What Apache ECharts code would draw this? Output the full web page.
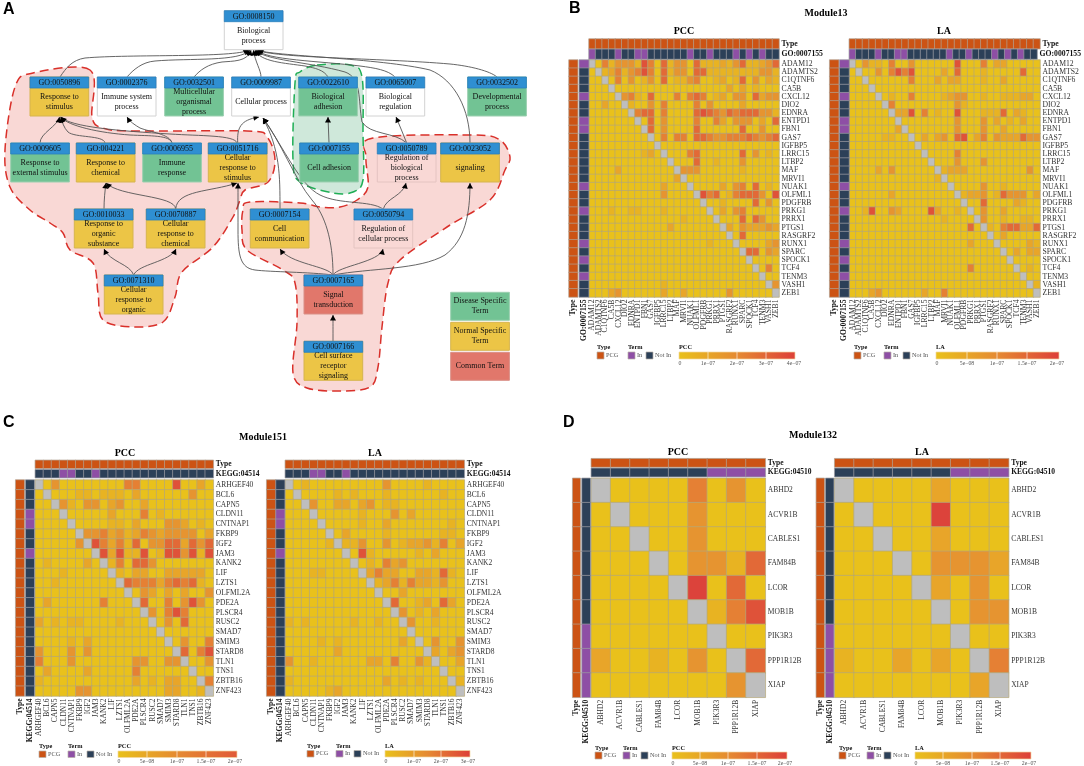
<!DOCTYPE html>
<html><head><meta charset="utf-8">
<style>html,body{margin:0;padding:0;background:#fff}#c{width:1084px;height:766px}</style>
<script src="https://cdn.jsdelivr.net/npm/echarts@6/dist/echarts.min.js"></script>
</head><body><div id="c"></div>
<script>
/* ---------- gene lists ---------- */
const genesB = ["ADAM12","ADAMTS2","C1QTNF6","CA5B","CXCL12","DIO2","EDNRA","ENTPD1","FBN1","GAS7","IGFBP5","LRRC15","LTBP2","MAF","MRVI1","NUAK1","OLFML1","PDGFRB","PRKG1","PRRX1","PTGS1","RASGRF2","RUNX1","SPARC","SPOCK1","TCF4","TENM3","VASH1","ZEB1"];
const genesC = ["ARHGEF40","BCL6","CAPN5","CLDN11","CNTNAP1","FKBP9","IGF2","JAM3","KANK2","LIF","LZTS1","OLFML2A","PDE2A","PLSCR4","RUSC2","SMAD7","SMIM3","STARD8","TLN1","TNS1","ZBTB16","ZNF423"];
const genesD = ["ABHD2","ACVR1B","CABLES1","FAM84B","LCOR","MOB1B","PIK3R3","PPP1R12B","XIAP"];
const inTermB = ["ADAM12","CXCL12","ENTPD1","FBN1","NUAK1","PRKG1","RUNX1","SPOCK1","TENM3"];
const inTermC = ["CLDN11","CNTNAP1","JAM3"];
const inTermD = ["PIK3R3","PPP1R12B","XIAP"];

/* ---------- matrices: colour level read per cell, '-' = diagonal ---------- */
const matBPCC = [
"-0413 33164 05133 05111 21351 1235",
"0-124 13464 05133 05511 11111 1331",
"00-04 03013 05011 34001 20150 3021",
"000-0 00000 00000 00000 02020 1000",
"0000- 34105 00040 45401 20330 5233",
"00200 -1003 04000 04030 00020 0000",
"00000 0-455 04000 05654 35455 5331",
"00000 00-05 03000 04004 20333 0205",
"00000 000-5 03000 05000 00050 0300",
"00000 0000- 04044 05543 34445 4345",
"00000 00000 -0000 00000 00000 0000",
"00000 00012 0-000 45000 00050 3010",
"00000 00000 00-00 05001 00030 0000",
"00002 00000 000-3 33000 00010 0000",
"00000 00000 0002- 00000 00000 0000",
"00000 00000 02000 -0000 20340 5010",
"00000 00000 03000 0-645 01455 5306",
"00000 00000 00000 00-00 10000 5030",
"00010 01100 01000 000-0 20340 0000",
"00000 00000 00001 0000- 00050 5300",
"00000 00000 00200 00000 -2032 2232",
"00000 00000 00000 00000 0-050 0000",
"00000 00000 00000 00010 00-00 0023",
"00000 00000 00000 00000 000-5 5032",
"00000 00000 00000 00000 0000- 0000",
"00000 00000 00000 00000 00000 -040",
"00000 00000 00000 00000 00000 0-00",
"00000 00000 01000 00000 00000 00-3",
"00023 00000 02002 00000 03000 000-"];
const matBLA = [
"-0311 04003 00000 06000 40220 0000",
"0-003 04646 00002 05000 10000 0500",
"00-00 00004 00020 22000 10020 0000",
"000-0 00000 00000 00000 00000 0000",
"0000- 01004 00001 23300 10011 1220",
"00000 -4000 00000 03100 00000 0000",
"00000 0-226 04010 06000 11150 2100",
"00000 00-00 00000 03000 30201 0200",
"00000 002-0 00000 03000 30020 0000",
"00000 1100- 02023 05602 40322 2533",
"00000 00000 -0000 00000 00000 0000",
"00000 00000 0-000 04000 00000 0000",
"00000 00000 00-00 03000 30000 0000",
"00002 03000 000-1 22200 00000 0030",
"00000 00000 0001- 00000 00000 0000",
"00000 00000 00000 -0000 30010 0000",
"00000 02000 00000 0-122 30153 3302",
"00000 00000 00000 00-00 50000 2100",
"00160 03200 00620 010-0 30020 0000",
"00000 00000 00001 0000- 30010 0110",
"00000 00000 00000 00050 -1045 5225",
"00000 00000 00000 00000 0-020 0000",
"00000 00000 00000 00020 00-00 0021",
"00000 00000 00000 00000 000-0 2022",
"00000 00000 00000 00000 0000- 0000",
"00000 00000 00000 00040 00000 -010",
"00000 00000 00000 00000 00000 0-00",
"00000 00000 00000 00000 00000 00-1",
"00023 00000 02004 00000 00000 000-"];
const matCPCC = [
"-0300 00000 04400 00600 20",
"0-000 11011 10200 00003 00",
"00-31 03302 30020 00000 00",
"000-0 00002 00040 10000 00",
"0000- 00001 10200 03320 10",
"00000 -3342 31243 23333 02",
"00000 3-642 41503 35525 35",
"00000 00-62 61160 16636 16",
"01000 020-1 40553 00000 00",
"00010 0000- 10220 02222 20",
"00100 00000 -5444 24545 10",
"00000 00000 0-032 02020 03",
"02000 00040 00-50 04036 30",
"00000 00000 000-3 04640 00",
"20101 10000 1000- 03050 00",
"00000 00000 00000 -0000 00",
"00001 02000 00000 0-030 04",
"30003 03000 00000 00-50 46",
"40003 00000 00330 033-0 03",
"02000 02000 00400 0000- 00",
"10000 00000 00201 02200 -4",
"00000 33000 00000 02200 1-"];
const matCLA = [
"-0100 00000 00300 00100 00",
"0-000 01010 00100 00001 00",
"00-30 02202 30110 00000 00",
"000-0 00001 00030 20000 00",
"0000- 00001 00200 00000 10",
"00000 -0200 00100 00001 10",
"00000 1-113 00301 22314 02",
"00000 00-06 10000 01020 00",
"00000 000-0 10423 00000 00",
"00011 0000- 24220 02215 10",
"00000 00000 -1241 42213 00",
"00000 00000 0-002 00000 00",
"00000 00000 00-50 01205 20",
"00000 00000 000-3 01020 00",
"10100 00010 0100- 30010 00",
"00000 00000 00000 -0000 00",
"00001 01000 00002 0-030 03",
"00000 02000 00000 00-20 23",
"30010 00000 22040 031-0 02",
"00000 00000 00000 0000- 00",
"10000 00000 00201 01000 -1",
"00000 12000 00000 00000 0-"];
const matDPCC = ["-00004030","0-0003000","00-003000","000-03315","0000-7050","00000-146","000000-00","200103 0-5","00000003-"];
const matDLA  = ["-00002000","0-0007000","00-002000","000-03332","0000-2030","00000-033","000000-00","100202 0-4","00000002-"];

/* ---------- panel A terms ---------- */
const goIds = ["GO:0008150","GO:0050896","GO:0002376","GO:0032501","GO:0009987","GO:0022610","GO:0065007","GO:0032502","GO:0009605","GO:004221","GO:0006955","GO:0051716","GO:0007155","GO:0050789","GO:0023052","GO:0010033","GO:0070887","GO:0007154","GO:0050794","GO:0071310","GO:0007165","GO:0007166"];
const goNames = ["Biological\nprocess","Response to\nstimulus","Immune system\nprocess","Multicellular\norganismal\nprocess","Cellular process","Biological\nadhesion","Biological\nregulation","Developmental\nprocess","Response to\nexternal stimulus","Response to\nchemical","Immune\nresponse","Cellular\nresponse to\nstimulus","Cell adhesion","Regulation of\nbiological\nprocess","signaling","Response to\norganic\nsubstance","Cellular\nresponse to\nchemical","Cell\ncommunication","Regulation of\ncellular process","Cellular\nresponse to\norganic","Signal\ntransduction","Cell surface\nreceptor\nsignaling"];
const goKinds = ["w","y","w","g","w","g","w","g","g","y","g","y","g","p","y","y","y","y","p","y","r","y"];
const legendTerms = ["Disease Specific\nTerm","Normal Specific\nTerm","Common Term"];
const legendKinds = ["g","y","r"];

/* ---------- layout (page pixels) ---------- */
const goLeft = [224.3,30,97.3,164.7,231.7,298.7,366,467.7,10.7,76.3,142.7,208.3,299.7,377.3,440.7,74.3,146.3,250.3,354,104.3,304,304];
const goTop  = [10.7,77,77,77,77,77,77,77,143,143,143,143,143,143,143,209,209,209,209,275,275,341.3];
const boxW = 58.7, boxH = 39, headH = 11;
const legendBoxes = [[450.7,292.3],[450.7,322.3],[450.7,352.3]];
const legendBoxH = 28;
const edgeRoutes = [
 [[60,77],[66,68],[72,60],[85,58],[130,54],[235,58],[249,50]],
 [[127,77],[133,70],[142,62],[155,61],[190,58],[240,62],[250,50]],
 [[194,77],[200,70],[208,64],[222,62],[232,61],[248,62],[251,50]],
 [[261,77],[261,70],[255,62],[253.5,50]],
 [[328,77],[324,70],[315,68],[305,66],[285,63],[260,62],[255,50]],
 [[395,77],[388,70],[375,68],[360,66],[320,61],[265,60],[257,50]],
 [[497,77],[490,71],[470,66],[450,64],[380,58],[270,58],[258,50]],
 [[470,143],[470,110],[455,80],[430,70],[380,58],[270,56],[257.5,50]],
 [[406.7,143],[395,132],[370,135],[362,122],[358,100],[362,78],[345,72],[310,62],[262,60],[256,50]],
 [[40,143],[40,133],[58,126],[59.5,117]],
 [[105,143],[104,135],[75,138],[68,132],[64,128],[62,122],[61,117]],
 [[172,143],[170,135],[150,136],[130,135],[100,133],[68,126],[60.5,117]],
 [[172,143],[170,134],[150,132],[140,128],[135,125],[130,122],[127,117]],
 [[237,143],[235,135],[200,136],[170,134],[120,131],[70,127],[61,117]],
 [[237.7,143],[237,128],[240,120],[259,117]],
 [[280,209],[280,175],[280,150],[263,118]],
 [[333,275],[333,240],[325,215],[312,200],[295,180],[280,140],[263,118]],
 [[383,209],[370,200],[340,205],[320,195],[300,185],[285,150],[263,118]],
 [[333,275],[310,272],[270,272],[255,270],[240,268],[238,255],[238,230],[238,210],[238,195],[238,183]],
 [[333,275],[338,266],[380,262],[383,249]],
 [[333,275],[328,266],[290,264],[280,249]],
 [[333,275],[370,268],[420,270],[445,255],[465,240],[470,215],[470,183]],
 [[333,341],[333,330],[333,322],[333,315]],
 [[133.7,275],[130,264],[110,262],[104,249]],
 [[133.7,275],[138,264],[170,262],[176,249]],
 [[104,209],[104,200],[105,190],[106,183]],
 [[175.7,209],[175,195],[120,197],[106,183]],
 [[175.7,209],[177,190],[210,192],[237,183]],
 [[329,143],[329,134],[328,126],[328,117]],
 [[406.7,143],[403,134],[400,126],[396,117]],
 [[383.3,209],[386,198],[403,196],[406,183]]
];
const blobOutlines = [
 {fill:"#F9D8D5",stroke:"#D9302A",pts:[[90,70],[33,73],[15,87],[5,150],[10,187],[30,210],[50,223],[63,233],[70,250],[93,263],[98,293],[103,320],[133,327],[163,322],[175,297],[182,272],[213,247],[233,217],[240,200],[245,190],[268,182],[275,160],[267,137],[247,131],[133,131],[103,128],[92,117]]},
 {fill:"#F9D8D5",stroke:"#D9302A",pts:[[373,138],[366,157],[368,187],[357,200],[340,207],[320,207],[300,203],[250,202],[243,210],[242,230],[247,250],[283,270],[295,283],[297,323],[293,373],[307,388],[340,391],[370,387],[378,367],[382,327],[388,283],[400,260],[447,227],[490,200],[505,170],[510,157],[500,140],[473,135]]},
 {fill:"#CFE8DA",stroke:"#1FAE55",pts:[[317,65],[350,65],[362,77],[363,133],[363,180],[353,192],[333,193],[300,182],[293,160],[295,83],[300,72]]}
];

/* ---------- styles ---------- */
const SERIF = '"Liberation Serif","Times New Roman",serif';
const kindFill = {g:"#72C394",y:"#ECC546",r:"#E1776B",w:"#FFFFFF",p:"#F9D8D5"};
const kindLine = {g:"#9CCFB0",y:"#D6B44E",r:"#D98F86",w:"#D2D2D2",p:"#E4C4C1"};
const levelColors = ["#E9C11B","#E8B322","#E8A529","#E69430","#E58034","#E26937","#DF5239","#DC433B"];
const DIAG=-1, PCG=10, IN=11, NOTIN=12;
const cPCG="#CC5314", cIN="#8E4FA5", cNOT="#2C4058";

/* ---------- heatmap placements ---------- */
const maps = [
 {genes:genesB,term:inTermB,termName:"GO:0007155",mat:matBPCC,x:[589,779],y:[60,297],tt:[39,48.7],tm:[49.3,59],lt:[569,577.7],lm:[579.3,588.7],fs:7.7},
 {genes:genesB,term:inTermB,termName:"GO:0007155",mat:matBLA, x:[849.3,1040],y:[60,297],tt:[39,48.7],tm:[49.3,59],lt:[829.7,838.7],lm:[839.7,849],fs:7.7},
 {genes:genesC,term:inTermC,termName:"KEGG:04514",mat:matCPCC,x:[35.3,213.3],y:[480,696],tt:[460.3,468.3],tm:[469.7,477.7],lt:[15.7,24.3],lm:[25.7,34.3],fs:7.5},
 {genes:genesC,term:inTermC,termName:"KEGG:04514",mat:matCLA, x:[285.3,464.3],y:[480,696],tt:[460.3,468.3],tm:[469.7,477.7],lt:[266.7,275.7],lm:[276,284.7],fs:7.5},
 {genes:genesD,term:inTermD,termName:"KEGG:04510",mat:matDPCC,x:[591.3,765.3],y:[478.3,697.3],tt:[458.7,467],tm:[468.3,476.7],lt:[572.7,580.3],lm:[582,590.3],fs:7.5},
 {genes:genesD,term:inTermD,termName:"KEGG:04510",mat:matDLA, x:[834.7,1008.7],y:[478.3,697.3],tt:[458.7,467],tm:[468.3,476.7],lt:[816.3,824.3],lm:[825.7,833.7],fs:7.5}
];
const panelTexts = [
 ["A",3,10],["B",569,9],["C",3,423],["D",563,423]
];
const titles = [
 ["Module13",826,13],["PCC",684,31],["LA",944,31],
 ["Module151",263,437],["PCC",125,453],["LA",375,453],
 ["Module132",813,435],["PCC",678,452],["LA",922,452]
];
const legends = [
 {name:"PCC",typeX:597,termX:628,notX:646,bar:[679,795],ty:347,sy:352,sh:7,tick:363,end:"#DD4038",ticks:[["0",680],["1e\u221207",708],["2e\u221207",737],["3e\u221207",766],["4e\u221207",794]]},
 {name:"LA", typeX:854,termX:884,notX:903,bar:[936,1059],ty:347,sy:352,sh:7,tick:363,end:"#DD4038",ticks:[["0",937],["5e\u221208",967],["1e\u221207",997],["1.5e\u221207",1027],["2e\u221207",1057]]},
 {name:"PCC",typeX:39,termX:68,notX:87,bar:[118,237],ty:746,sy:751,sh:6.5,tick:761,end:"#E15A37",ticks:[["0",119],["5e\u221208",147],["1e\u221207",177],["1.5e\u221207",206],["2e\u221207",235]]},
 {name:"LA", typeX:307,termX:336,notX:354,bar:[385,470],ty:746,sy:750.5,sh:6.5,tick:761,end:"#DD4038",ticks:[["0",386],["1e\u221207",414],["2e\u221207",441],["3e\u221207",468]]},
 {name:"PCC",typeX:595,termX:623,notX:641,bar:[672,787],ty:748,sy:752,sh:7,tick:763,end:"#DD4038",ticks:[["0",673],["5e\u221208",700],["1e\u221207",728],["1.5e\u221207",757],["2e\u221207",785]]},
 {name:"LA", typeX:839,termX:867,notX:884,bar:[915,1031],ty:748,sy:752,sh:7,tick:763,end:"#DD4038",ticks:[["0",916],["5e\u221208",943],["1e\u221207",972],["1.5e\u221207",1000],["2e\u221207",1029]]}
];

/* ---------- option assembly ---------- */
const grids=[], xAxes=[], yAxes=[], series=[], heatIdx=[];
const hiddenAxisBits = {axisLine:{show:false},axisTick:{show:false},splitLine:{show:false},splitArea:{show:false}};

function addHeat(rect, xCats, yCats, data, xLab, yLab, border){
  const g = grids.length;
  grids.push({left:rect[0],top:rect[1],width:rect[2]-rect[0],height:rect[3]-rect[1],containLabel:false});
  xAxes.push(Object.assign({type:"category",gridIndex:g,data:xCats,position:"bottom",
    axisLabel: xLab ? Object.assign({show:true,interval:0,rotate:90,margin:2.5,fontFamily:SERIF,hideOverlap:false},xLab) : {show:false}},hiddenAxisBits));
  yAxes.push(Object.assign({type:"category",gridIndex:g,data:yCats,inverse:true,position:"right",
    axisLabel: yLab ? Object.assign({show:true,interval:0,margin:2.5,fontFamily:SERIF,hideOverlap:false},yLab) : {show:false}},hiddenAxisBits));
  heatIdx.push(series.length);
  series.push({type:"heatmap",xAxisIndex:g,yAxisIndex:g,data:data,silent:true,progressive:0,
    itemStyle:{borderColor:border,borderWidth:0.7}});
}
maps.forEach(m=>{
  const n=m.genes.length, isIn=m.genes.map(g=>m.term.includes(g)?IN:NOTIN);
  const rows=m.mat.map(r=>r.replace(/ /g,"").split("").map(c=>c==="-"?DIAG:+c));
  const cells=[]; rows.forEach((r,i)=>r.forEach((v,j)=>cells.push([j,i,v])));
  const bold={fontWeight:"bold",fontSize:m.fs,color:"#111"}, plain={fontSize:m.fs,color:"#333"};
  addHeat([m.x[0],m.y[0],m.x[1],m.y[1]],m.genes,m.genes,cells,plain,plain,"#B4A878");
  addHeat([m.x[0],m.tt[0],m.x[1],m.tt[1]],m.genes,["Type"],m.genes.map((g,j)=>[j,0,PCG]),null,bold,"#B0A090");
  addHeat([m.x[0],m.tm[0],m.x[1],m.tm[1]],m.genes,[m.termName],isIn.map((v,j)=>[j,0,v]),null,bold,"#9A9AA0");
  addHeat([m.lt[0],m.y[0],m.lt[1],m.y[1]],["Type"],m.genes,m.genes.map((g,i)=>[0,i,PCG]),bold,null,"#B0A090");
  addHeat([m.lm[0],m.y[0],m.lm[1],m.y[1]],[m.termName],m.genes,isIn.map((v,i)=>[0,i,v]),bold,null,"#9A9AA0");
});

/* full-page value grid for the GO diagram */
const pg = grids.length;
grids.push({left:0,top:0,width:1084,height:766,containLabel:false});
xAxes.push({type:"value",gridIndex:pg,min:0,max:1084,show:false});
yAxes.push({type:"value",gridIndex:pg,min:0,max:766,inverse:true,show:false});

function smoothClosed(pts){
  const n=pts.length; let d="M"+pts[0][0]+","+pts[0][1];
  for(let i=0;i<n;i++){
    const p0=pts[(i-1+n)%n],p1=pts[i],p2=pts[(i+1)%n],p3=pts[(i+2)%n];
    d+="C"+(p1[0]+(p2[0]-p0[0])/6)+","+(p1[1]+(p2[1]-p0[1])/6)+" "+(p2[0]-(p3[0]-p1[0])/6)+","+(p2[1]-(p3[1]-p1[1])/6)+" "+p2[0]+","+p2[1];
  }
  return d+"Z";
}
series.push({type:"custom",xAxisIndex:pg,yAxisIndex:pg,silent:true,z:1,
  data:blobOutlines.map(b=>b.pts[0]),
  renderItem:(p,api)=>{const b=blobOutlines[p.dataIndex];
    return {type:"path",shape:{pathData:smoothClosed(b.pts.map(q=>api.coord(q)))},
      style:{fill:b.fill,stroke:b.stroke,lineWidth:1.5,lineDash:[9,5]}};}
});
series.push({type:"custom",xAxisIndex:pg,yAxisIndex:pg,silent:true,z:2,
  data:edgeRoutes.map(r=>r[0]),
  renderItem:(p,api)=>{const pts=edgeRoutes[p.dataIndex].map(q=>api.coord(q));
    let d="M"+pts[0][0]+","+pts[0][1];
    for(let i=1;i+2<pts.length;i+=3) d+="C"+pts[i]+" "+pts[i+1]+" "+pts[i+2];
    const e=pts[pts.length-1], c=pts[pts.length-2];
    const a=Math.atan2(e[1]-c[1],e[0]-c[0]), L=5.5, W=3;
    const bx=e[0]-L*Math.cos(a), by=e[1]-L*Math.sin(a);
    return {type:"group",children:[
      {type:"path",shape:{pathData:d},style:{fill:"none",stroke:"#555",lineWidth:0.9}},
      {type:"polygon",shape:{points:[e,[bx-W*Math.sin(a),by+W*Math.cos(a)],[bx+W*Math.sin(a),by-W*Math.cos(a)]]},style:{fill:"#000"}}
    ]};}
});
const nodeFont='8px '+SERIF;
series.push({type:"custom",xAxisIndex:pg,yAxisIndex:pg,silent:true,z:3,
  data:goIds.map((g,i)=>[goLeft[i],goTop[i]]),
  renderItem:(p,api)=>{const i=p.dataIndex,k=goKinds[i];
    const a=api.coord([goLeft[i],goTop[i]]), b=api.coord([goLeft[i]+boxW,goTop[i]+boxH]), h=api.coord([goLeft[i],goTop[i]+headH]);
    const w=b[0]-a[0], cx=a[0]+w/2;
    return {type:"group",children:[
      {type:"rect",shape:{x:a[0],y:a[1],width:w,height:b[1]-a[1]},style:{fill:kindFill[k],stroke:kindLine[k],lineWidth:1}},
      {type:"rect",shape:{x:a[0],y:a[1],width:w,height:h[1]-a[1]},style:{fill:"#2F8FD2",stroke:"#2A7FBC",lineWidth:0.8}},
      {type:"text",x:cx,y:a[1]+(h[1]-a[1])/2+0.5,style:{text:goIds[i],font:nodeFont,fill:"#111",align:"center",verticalAlign:"middle"}},
      {type:"text",x:cx,y:h[1]+(b[1]-h[1])/2,style:{text:goNames[i],font:nodeFont,fill:"#111",align:"center",verticalAlign:"middle",lineHeight:10}}
    ]};}
});
series.push({type:"custom",xAxisIndex:pg,yAxisIndex:pg,silent:true,z:3,
  data:legendBoxes,
  renderItem:(p,api)=>{const i=p.dataIndex,k=legendKinds[i],a=api.coord(legendBoxes[i]),w=boxW,h=legendBoxH;
    return {type:"group",children:[
      {type:"rect",shape:{x:a[0],y:a[1],width:w,height:h},style:{fill:kindFill[k],stroke:kindLine[k],lineWidth:1}},
      {type:"text",x:a[0]+w/2,y:a[1]+h/2,style:{text:legendTerms[i],font:nodeFont,fill:"#111",align:"center",verticalAlign:"middle",lineHeight:10}}
    ]};}
});

/* ---------- static text and legends ---------- */
const gfx=[];
const txt=(t,x,y,font,fill,align)=>gfx.push({type:"text",x:x,y:y,silent:true,z:10,style:{text:t,font:font,fill:fill,align:align||"left",verticalAlign:"middle"}});
const box=(x,y,w,h,fill,stroke)=>gfx.push({type:"rect",silent:true,z:10,shape:{x:x,y:y,width:w,height:h},style:{fill:fill,stroke:stroke||"#B8B0A8",lineWidth:0.7}});
panelTexts.forEach(t=>txt(t[0],t[1],t[2],'bold 16px "Liberation Sans",Arial,sans-serif',"#000"));
titles.forEach(t=>txt(t[0],t[1],t[2],'bold 10px '+SERIF,"#000","center"));
const lgB='bold 6.3px '+SERIF, lgN='6.3px '+SERIF, lgC="#555";
legends.forEach(l=>{
  txt("Type",l.typeX,l.ty,lgB,"#111");
  box(l.typeX,l.sy,7,l.sh,cPCG); txt("PCG",l.typeX+9,l.sy+l.sh/2,lgN,lgC);
  txt("Term",l.termX,l.ty,lgB,"#111");
  box(l.termX,l.sy,7,l.sh,cIN); txt("In",l.termX+9,l.sy+l.sh/2,lgN,lgC);
  box(l.notX,l.sy,7,l.sh,cNOT); txt("Not In",l.notX+9,l.sy+l.sh/2,lgN,lgC);
  txt(l.name,l.bar[0],l.ty,lgB,"#111");
  gfx.push({type:"rect",silent:true,z:10,shape:{x:l.bar[0],y:l.sy,width:l.bar[1]-l.bar[0],height:l.sh},
    style:{stroke:"#F3D9A0",lineWidth:0.7,fill:new echarts.graphic.LinearGradient(0,0,1,0,[
      {offset:0,color:"#E9C11B"},{offset:0.5,color:"#E58A31"},{offset:1,color:l.end}])}});
  l.ticks.forEach((t,i)=>{
    if(i>0&&i<l.ticks.length-1) gfx.push({type:"line",silent:true,z:11,shape:{x1:t[1],y1:l.sy,x2:t[1],y2:l.sy+l.sh},style:{stroke:"#fff",lineWidth:0.8,opacity:0.75}});
    txt(t[0],t[1],l.tick,'5.8px '+SERIF,lgC,"center");
  });
});

const pieces=levelColors.map((c,i)=>({value:i,color:c}))
  .concat([{value:DIAG,color:"#BEBEBE"},{value:PCG,color:cPCG},{value:IN,color:cIN},{value:NOTIN,color:cNOT}]);

const chart=echarts.init(document.getElementById("c"),null,{renderer:"canvas",width:1084,height:766});
chart.setOption({
  animation:false,backgroundColor:"#fff",tooltip:{show:false},
  grid:grids,xAxis:xAxes,yAxis:yAxes,
  visualMap:{type:"piecewise",show:false,dimension:2,seriesIndex:heatIdx,pieces:pieces},
  series:series,graphic:gfx
});
</script></body></html>
